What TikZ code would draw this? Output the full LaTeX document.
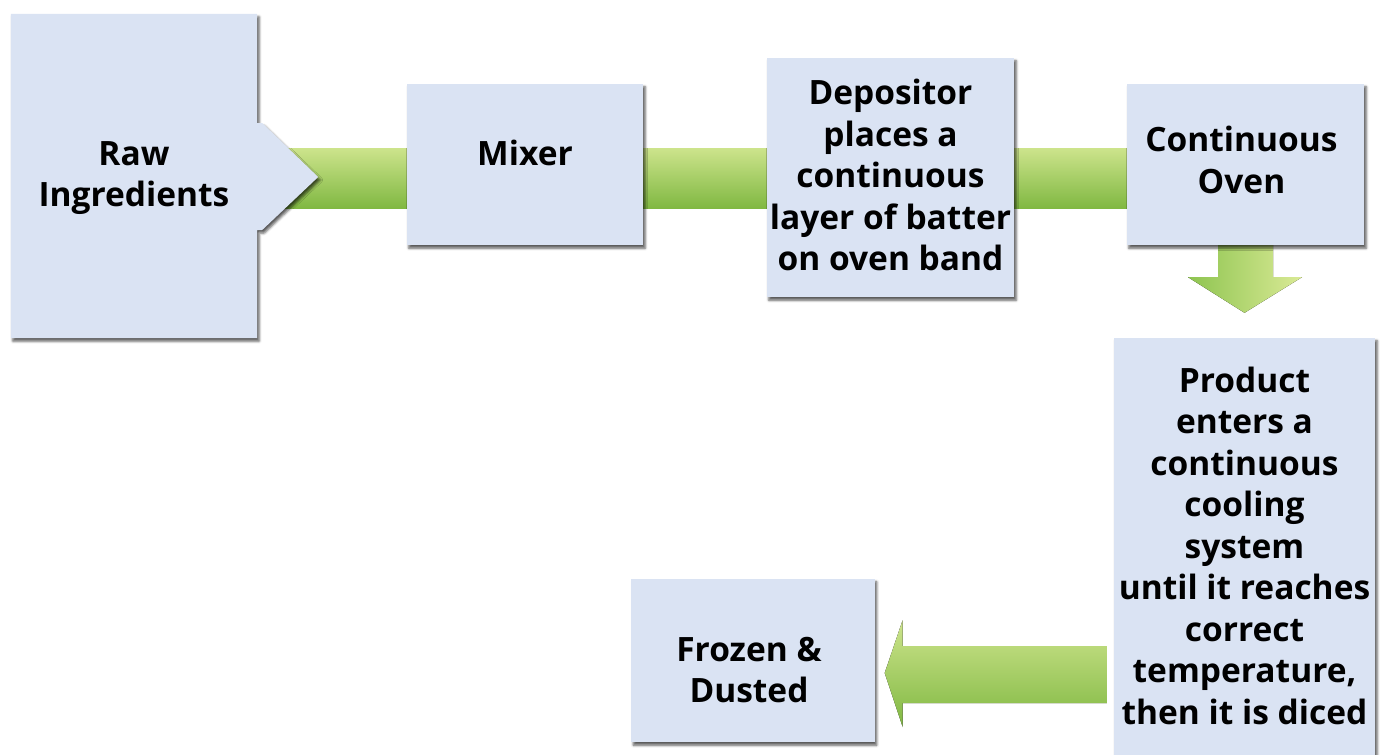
\documentclass[tikz,border=0pt]{standalone}
\usepackage{fontspec}
\setmainfont{Open Sans}
\usetikzlibrary{calc,shadows.blur}
\definecolor{boxfill}{RGB}{218,227,243}
\definecolor{barlight}{RGB}{205,228,140}
\definecolor{barmid}{RGB}{142,196,80}
\definecolor{bardark}{RGB}{128,184,66}
\definecolor{baryellow}{RGB}{218,234,150}
\begin{document}
\begin{tikzpicture}[x=1pt,y=-1pt,
  shad/.style={blur shadow={shadow xshift=2pt, shadow yshift=-3pt, shadow blur radius=2.5pt, shadow opacity=65}},
  frame/.style={inner sep=0pt},
  txt/.style={align=center, inner sep=0pt, font=\fontsize{33.5}{41.5}\selectfont\bfseries},
  hbar/.style={top color=barlight, middle color=barmid, bottom color=bardark},
  vbar/.style={left color=barmid, middle color=barmid, right color=baryellow},
  lbar/.style={top color=barlight, middle color=barmid, bottom color=bardark}]
\useasboundingbox (0,0) rectangle (1382,755);

% node frames
\node[frame, minimum width=246, minimum height=324] (raw) at (134,176) {};
\node[frame, minimum width=236, minimum height=161] (mixer) at (525,164.5) {};
\node[frame, minimum width=247, minimum height=239] (dep) at (890.5,177.5) {};
\node[frame, minimum width=237, minimum height=161] (oven) at (1245.5,164.5) {};
\node[frame, minimum width=261, minimum height=417] (product) at (1244.5,546.5) {};
\node[frame, minimum width=243, minimum height=163] (frozen) at (753,660.5) {};

% horizontal connectors
\fill[hbar] ($(raw.east)+(0,-28)$) rectangle ($(mixer.west |- raw.east)+(0,32)$);
\fill[hbar] ($(mixer.east |- raw.east)+(0,-28)$) rectangle ($(dep.west |- raw.east)+(0,32)$);
\fill[hbar] ($(dep.east |- raw.east)+(0,-28)$) rectangle ($(oven.west |- raw.east)+(0,32)$);

% down arrow
\fill[vbar] ($(oven.south)+(-27.5,0)$) -- ($(oven.south)+(-27.5,32)$) -- ($(oven.south)+(-57.5,32)$)
  -- ($(product.north)+(0,-25)$) -- ($(oven.south)+(56.5,32)$) -- ($(oven.south)+(27.5,32)$)
  -- ($(oven.south)+(27.5,0)$) -- cycle;

% left arrow
\coordinate (lt) at ($(frozen.east)+(10,12.5)$);
\coordinate (lr) at ($(product.west |- lt)+(-7,0)$);
\fill[lbar] ($(lr)+(0,-27)$) -- ($(lt)+(18,-27)$) -- ($(lt)+(18,-53)$) -- (lt)
  -- ($(lt)+(18,54)$) -- ($(lt)+(18,30)$) -- ($(lr)+(0,30)$) -- cycle;

% boxes
\fill[boxfill, shad] (raw.north west) -- (raw.north east) -- ($(raw.east)+(0,-53)$) -- ($(raw.east)+(5,-53)$)
  -- ($(raw.east)+(61,1)$) -- ($(raw.east)+(5,54)$) -- ($(raw.east)+(0,54)$) -- (raw.south east)
  -- (raw.south west) -- cycle;
\fill[boxfill, shad] (mixer.north west) rectangle (mixer.south east);
\fill[boxfill, shad] (dep.north west) rectangle (dep.south east);
\fill[boxfill, shad] (oven.north west) rectangle (oven.south east);
\fill[boxfill, shad] (product.north west) rectangle (product.south east);
\fill[boxfill, shad] (frozen.north west) rectangle (frozen.south east);

% texts
\node[txt] (rawt) at ($(raw.center)+(0,2)$) {Raw\\Ingredients};
\node[txt] (mixert) at ($(mixer.center)+(0,-11.5)$) {Mixer};
\node[txt] (dept) at ($(dep.center)+(0,-2.5)$) {Depositor\\places a\\continuous\\layer of batter\\on oven band};
\node[txt] (ovent) at ($(oven.center)+(-4,-4.5)$) {Continuous\\Oven};
\node[txt] (productt) at ($(product.center)+(0,-1)$) {Product\\enters a\\continuous\\cooling\\system\\until it reaches\\correct\\temperature,\\then it is diced};
\node[txt] (frozent) at ($(frozen.center)+(-4,9.5)$) {Frozen \&\\Dusted};
\end{tikzpicture}
\end{document}
